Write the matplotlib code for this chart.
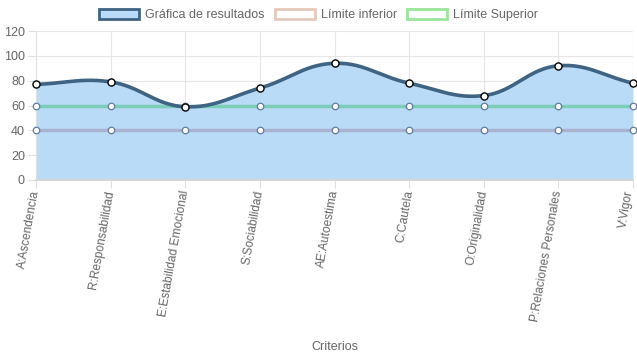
import numpy as np
from matplotlib import pyplot as plt
from matplotlib.patches import Patch
from matplotlib.transforms import ScaledTranslation

criterios = ['A:Ascendencia', 'R:Responsabilidad', 'E:Estabilidad Emocional', 'S:Sociabilidad',
             'AE:Autoestima', 'C:Cautela', 'O:Originalidad', 'P:Relaciones Personales', 'V:Vigor']
resultados = [77, 79, 59, 74, 94, 78, 68, 92, 78]
limite_inferior = [40, 40, 40, 40, 40, 40, 40, 40, 40]
limite_superior = [60, 60, 60, 60, 60, 60, 60, 60, 60]

plt.rcParams['font.family'] = ['Liberation Sans', 'DejaVu Sans']

W, H = 637, 359
L, R, T, B = 36, 633, 31, 180

# curva suave estilo Chart.js (tension 0.4), calculada en pixeles
def curvaSuave(xs, ys, sx, sy, tension=0.4, pasos=30):
  px = np.array(xs, float) * sx
  py = np.array(ys, float) * sy
  n = len(px)
  c1 = []
  c2 = []
  for i in range(n):
    p0 = (px[max(i - 1, 0)], py[max(i - 1, 0)])
    p1 = (px[i], py[i])
    p2 = (px[min(i + 1, n - 1)], py[min(i + 1, n - 1)])
    d01 = np.hypot(p1[0] - p0[0], p1[1] - p0[1])
    d12 = np.hypot(p2[0] - p1[0], p2[1] - p1[1])
    s01 = d01 / (d01 + d12) if d01 + d12 else 0
    s12 = d12 / (d01 + d12) if d01 + d12 else 0
    fa = tension * s01
    fb = tension * s12
    c1.append((p1[0] - fa * (p2[0] - p0[0]), p1[1] - fa * (p2[1] - p0[1])))
    c2.append((p1[0] + fb * (p2[0] - p0[0]), p1[1] + fb * (p2[1] - p0[1])))
  outx, outy = [], []
  t = np.linspace(0, 1, pasos)
  for i in range(n - 1):
    a = np.array([px[i], py[i]])
    b = np.array(c2[i])
    c = np.array(c1[i + 1])
    d = np.array([px[i + 1], py[i + 1]])
    pts = ((1 - t) ** 3)[:, None] * a + (3 * (1 - t) ** 2 * t)[:, None] * b + (3 * (1 - t) * t ** 2)[:, None] * c + (t ** 3)[:, None] * d
    outx.extend(pts[:, 0] / sx)
    outy.extend(pts[:, 1] / sy)
  return np.array(outx), np.array(outy)


fig = plt.figure(figsize=(W / 100, H / 100), dpi=100)
ax = fig.add_axes([L / W, 1 - B / H, (R - L) / W, (B - T) / H])

x = np.arange(len(criterios))
sx = (R - L) / (len(criterios) - 1)
sy = (B - T) / 120.0
cx, cy = curvaSuave(x, resultados, sx, sy)

ax.fill_between(cx, 0, cy, color='#b9dbf7', zorder=1, linewidth=0)
ax.plot(x, limite_inferior, color='#a9b3cf', linewidth=2.5, zorder=2)
ax.plot(x, limite_superior, color='#7ccdb7', linewidth=2.5, zorder=2)
ax.scatter(x, limite_inferior, s=22, facecolor='white', edgecolor='#5f7d9b', linewidths=0.9, zorder=3, clip_on=False)
ax.scatter(x, limite_superior, s=22, facecolor='white', edgecolor='#5f7d9b', linewidths=0.9, zorder=3, clip_on=False)
ax.plot(cx, cy, color='#3f6383', linewidth=2.6, zorder=4, solid_capstyle='round')
ax.scatter(x, resultados, s=26, facecolor='white', edgecolor='black', linewidths=1.0, zorder=5, clip_on=False)

ax.set_xlim(0, len(criterios) - 1)
ax.set_ylim(0, 120)
ax.set_yticks(range(0, 121, 20))
ax.set_xticks(x)
ax.tick_params(axis='y', labelsize=9, colors='#666666', length=6, color='#e0e0e0', pad=2)
ax.tick_params(axis='x', length=6, color='#e0e0e0', pad=1.5)
ax.set_xticklabels(criterios, rotation=80, rotation_mode='anchor', ha='right', va='center', fontsize=8.6, color='#666666')
# el ultimo rotulo queda pegado al borde: se corre un poco a la izquierda
ultimo = ax.get_xticklabels()[-1]
ultimo.set_transform(ultimo.get_transform() + ScaledTranslation(-3 / 100, 0, fig.dpi_scale_trans))
ax.grid(True, color='#e6e6e6', linewidth=0.8, zorder=0)
ax.set_axisbelow(True)
for lado in ['top', 'right']:
  ax.spines[lado].set_visible(False)
ax.spines['left'].set_color('#e0e0e0')
ax.spines['bottom'].set_color('#d6d6d6')
ax.spines['bottom'].set_linewidth(1.5)

fig.text((L + R) / 2 / W, 1 - 347 / H, 'Criterios', ha='center', va='center', fontsize=9, color='#666666')

manijas = [Patch(facecolor='#b9dbf7', edgecolor='#3f6383', linewidth=2, label='Gráfica de resultados'),
           Patch(facecolor='white', edgecolor='#e5c9ba', linewidth=2, label='Límite inferior'),
           Patch(facecolor='white', edgecolor='#9be59a', linewidth=2, label='Límite Superior')]
leg = fig.legend(handles=manijas, loc='center', bbox_to_anchor=(0.5, 1 - 15 / H), ncol=3, frameon=False,
                 fontsize=9, handlelength=3.2, handleheight=0.9, columnspacing=0.8, handletextpad=0.5, borderaxespad=0)
for t in leg.get_texts():
  t.set_color('#666666')

fig.savefig('out.png', dpi=100)
